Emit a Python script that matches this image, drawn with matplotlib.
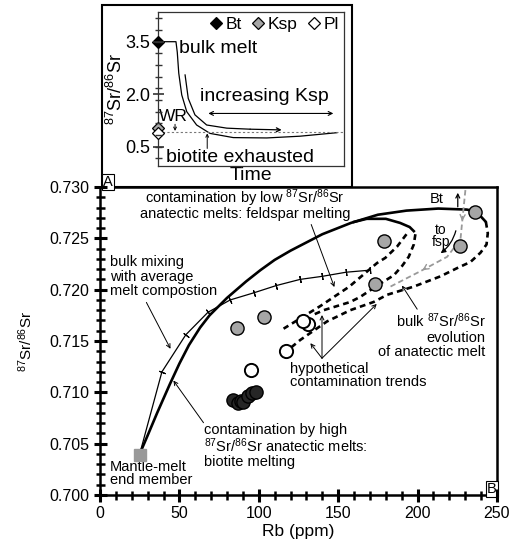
import numpy as np
import matplotlib.pyplot as plt
from matplotlib.patches import Rectangle
from matplotlib.lines import Line2D
from matplotlib.transforms import IdentityTransform
from matplotlib.ticker import MultipleLocator, FormatStrFormatter, FixedLocator

plt.rcParams['font.family'] = ['Liberation Sans', 'DejaVu Sans']
plt.rcParams['mathtext.fontset'] = 'custom'
plt.rcParams['mathtext.rm'] = 'Liberation Sans'
plt.rcParams['mathtext.default'] = 'regular'

# ================= Panel A data (schematic) =================
t_bulk = [0, 0.95, 1.02, 1.1, 1.26, 1.53, 2.06, 2.78, 4.03, 5.83, 7.62, 9.6]
sr_bulk = [3.5, 3.5, 3.2, 2.6, 1.98, 1.5, 1.12, 0.88, 0.76, 0.75, 0.8, 0.9]
t_ksp = [1.44, 1.61, 1.97, 2.6, 3.68, 4.93, 6.63]
sr_ksp = [2.55, 1.88, 1.41, 1.12, 1.03, 1.0, 0.98]
wr_level = 0.93
mineral_names = ['Bt', 'Ksp', 'Pl']
mineral_sr = [3.5, 1.03, 0.88]
mineral_fill = ['black', '#a6a6a6', 'white']

# ================= Panel B data =================
rb_mantle, sr_mantle = 25, 0.7039
rb_black = [84, 87, 89, 90, 93, 96, 98]
sr_black = [0.7093, 0.7090, 0.7092, 0.7091, 0.7096, 0.7099, 0.7100]
rb_open = [95, 117, 131, 128]
sr_open = [0.7122, 0.7140, 0.7167, 0.7169]
rb_grey = [86, 103, 173, 179, 227, 236]
sr_grey = [0.7163, 0.7173, 0.7206, 0.7247, 0.7243, 0.7276]

# biotite melting curve (thick solid)
rb_bt = [25, 30, 36, 44, 50, 56, 63, 69, 80, 92, 101, 110, 120, 140, 158, 175, 193, 213, 231, 237, 243]
sr_bt = [0.7040, 0.7058, 0.7080, 0.7108, 0.7128, 0.7146, 0.7163, 0.7175, 0.7192, 0.7208, 0.7219,
         0.7229, 0.7238, 0.7254, 0.7265, 0.7273, 0.7277, 0.7279, 0.7278, 0.7276, 0.7266]
# feldspar melting branch (thick solid)
rb_fsp = [160, 168, 180, 189, 195, 197.6]
sr_fsp = [0.7266, 0.7269, 0.7269, 0.7265, 0.7261, 0.7257]
# bulk mixing line with ticks
rb_mix = [25, 39, 54, 68, 82, 97, 111, 126, 140, 155, 170]
sr_mix = [0.7040, 0.7120, 0.7156, 0.7178, 0.7190, 0.7197, 0.7204, 0.7210, 0.7213, 0.7217, 0.7219]
# hypothetical contamination trends (dashed)
rb_loop = [243, 244.2, 243.4, 239.6, 233.3, 224.9, 214.4, 197.6, 180.8, 172.3, 157.6, 142.9, 126.1, 119.8]
sr_loop = [0.7266, 0.7255, 0.7244, 0.7236, 0.7227, 0.7221, 0.7213, 0.7203, 0.7195, 0.7188,
           0.7180, 0.7169, 0.7151, 0.7143]
rb_d1 = [193, 187.1, 179.7, 174.5, 157, 138.7, 115.6]
sr_d1 = [0.7254, 0.7242, 0.7231, 0.7226, 0.7203, 0.7184, 0.7162]
rb_d2 = [198.6, 197.6, 194.4, 190.2, 185, 176.6, 163.9, 157.6, 149.2, 140.8, 133.5]
sr_d2 = [0.7254, 0.7244, 0.7232, 0.7223, 0.7214, 0.7206, 0.7193, 0.7188, 0.7184, 0.7180, 0.7175]
# bulk melt evolution (grey dashed)
rb_evol = [230.1, 228, 227, 218.6, 201.8, 182.9]
sr_evol = [0.7297, 0.7265, 0.7249, 0.7232, 0.7218, 0.7203]


def cross_ticks(fig, ax, axis, positions, half_px, width, color='black'):
    # ticks crossing the spine: positions come from the axes scale, drawn in pixels on the figure
    bb = ax.get_window_extent()
    for p in positions:
        if axis == 'x':
            x = ax.transData.transform((p, ax.get_ylim()[0]))[0]
            xs, ys = [x, x], [bb.y0 - half_px, bb.y0 + half_px]
        else:
            y = ax.transData.transform((ax.get_xlim()[0], p))[1]
            xs, ys = [bb.x0 - half_px, bb.x0 + half_px], [y, y]
        fig.add_artist(Line2D(xs, ys, color=color, lw=width, solid_capstyle='butt',
                              transform=IdentityTransform(), zorder=10))


fig = plt.figure(figsize=(5.15, 5.57), dpi=100)

# ================= Panel B =================
axB = fig.add_axes([100/515, 62/557, 397/515, 308/557])
axB.set_xlim(0, 250)
axB.set_ylim(0.700, 0.730)

axB.plot(rb_bt, sr_bt, color='black', lw=1.9, solid_capstyle='round', zorder=3)
axB.plot(rb_fsp, sr_fsp, color='black', lw=1.9, zorder=3)
axB.plot(rb_mix, sr_mix, color='black', lw=0.9, zorder=3)
for xs, ys in [(rb_loop, sr_loop), (rb_d1, sr_d1), (rb_d2, sr_d2)]:
    axB.plot(xs, ys, color='black', lw=1.9, dashes=(2.2, 1.6), zorder=3)
axB.plot(rb_evol, sr_evol, color='#999999', lw=1.3, dashes=(3, 1.8), zorder=3, clip_on=False)
for (x0, y0), (x1, y1) in [((228.3, 0.7272), (228, 0.7264)), ((206, 0.7222), (201.5, 0.72175))]:
    axB.annotate('', xy=(x1, y1), xytext=(x0, y0),
                 arrowprops=dict(arrowstyle='->', color='#999999', lw=1.0, mutation_scale=9))

# tick marks on the mixing line, perpendicular to the line
pts = axB.transData.transform(np.column_stack([rb_mix, sr_mix]))
for i in range(1, len(rb_mix)):
    j0, j1 = max(i - 1, 0), min(i + 1, len(rb_mix) - 1)
    dx, dy = pts[j1] - pts[j0]
    ang = np.degrees(np.arctan2(dy, dx))
    axB.plot(rb_mix[i], sr_mix[i], marker=(2, 2, ang), ms=5, mew=0.8, color='black', zorder=3)

axB.plot(rb_mantle, sr_mantle, 's', ms=8, color='#999999', zorder=4)
axB.plot(rb_black, sr_black, 'o', ms=9.5, mfc='#262626', mec='black', mew=1.0, zorder=4)
axB.plot(rb_open, sr_open, 'o', ms=9.5, mfc='white', mec='black', mew=1.4, zorder=4)
axB.plot(rb_grey, sr_grey, 'o', ms=9.5, mfc='#a6a6a6', mec='black', mew=1.0, zorder=4)

fs = 10.5
arrow_kw = dict(arrowstyle='->', lw=0.7, mutation_scale=7)
axB.text(91.4, 0.7283, 'contamination by low $^{87}$Sr/$^{86}$Sr\nanatectic melts: feldspar melting',
         ha='center', va='center', fontsize=fs, linespacing=0.85)
axB.annotate('', xy=(148.2, 0.7200), xytext=(132.4, 0.7266), arrowprops=arrow_kw)
axB.text(6.3, 0.72128, 'bulk mixing\nwith average\nmelt compostion', ha='left', va='center',
         fontsize=fs, linespacing=1.05)
axB.annotate('', xy=(45.2, 0.7140), xytext=(28.4, 0.7190), arrowprops=arrow_kw)
axB.text(65.6, 0.70478, 'contamination by high\n$^{87}$Sr/$^{86}$Sr anatectic melts:\nbiotite melting',
         ha='left', va='center', fontsize=fs, linespacing=0.95)
axB.annotate('', xy=(45.2, 0.71137), xytext=(66.2, 0.70682), arrowprops=arrow_kw)
axB.text(6.3, 0.70211, 'Mantle-melt\nend member', ha='left', va='center', fontsize=fs, linespacing=0.85)
axB.text(242.7, 0.71556, 'bulk $^{87}$Sr/$^{86}$Sr\nevolution\nof anatectic melt', ha='right',
         va='center', multialignment='right', fontsize=fs, linespacing=1.05)
axB.annotate('', xy=(189.2, 0.72063), xytext=(200.7, 0.71787), arrowprops=arrow_kw)
axB.text(119.8, 0.71165, 'hypothetical\ncontamination trends', ha='left', va='center',
         fontsize=fs, linespacing=0.95)
for tx, ty in [(131.4, 0.7150), (139.8, 0.7178), (175.5, 0.7188)]:
    axB.annotate('', xy=(tx, ty), xytext=(139.8, 0.71332),
                 arrowprops=dict(arrow_kw, shrinkA=0))
axB.text(211.9, 0.72885, 'Bt', ha='center', va='center', fontsize=fs)
axB.annotate('', xy=(225.3, 0.72944), xytext=(225.3, 0.72807),
             arrowprops=dict(arrowstyle='->', lw=0.9, mutation_scale=7, shrinkA=0, shrinkB=0))
axB.text(214.5, 0.7252, 'to\nfsp', ha='center', va='center', fontsize=10, linespacing=0.8)
axB.annotate('', xy=(213.1, 0.72339), xytext=(224.5, 0.7260),
             arrowprops=dict(arrowstyle='-|>', lw=0.9, mutation_scale=7,
                             connectionstyle='arc3,rad=-0.2', color='black'))
axB.text(0.987, 0.02, 'B', transform=axB.transAxes, ha='center', va='center', fontsize=10.5,
         bbox=dict(boxstyle='square,pad=0.08', fc='white', ec='black', lw=0.8))

for s in axB.spines.values():
    s.set_linewidth(1.8)
axB.xaxis.set_major_locator(MultipleLocator(50))
axB.yaxis.set_major_locator(MultipleLocator(0.005))
axB.yaxis.set_major_formatter(FormatStrFormatter('%.3f'))
axB.tick_params(which='both', length=0, labelsize=11.5, pad=8)
cross_ticks(fig, axB, 'x', np.arange(0, 251, 50), 6.5, 2.2)
cross_ticks(fig, axB, 'x', [v for v in np.arange(0, 251, 10) if v % 50], 4.5, 1.8)
cross_ticks(fig, axB, 'y', np.linspace(0.700, 0.730, 7), 6.5, 2.2)
cross_ticks(fig, axB, 'y', [v for k, v in enumerate(np.linspace(0.700, 0.730, 31)) if k % 5], 4.5, 1.8)
axB.set_xlabel('Rb (ppm)', fontsize=12.5, labelpad=2)
axB.set_ylabel('$^{87}$Sr/$^{86}$Sr', fontsize=11, labelpad=10)

# ================= Panel A =================
fig.patches.append(Rectangle((101.7/515, 370/557), 250/515, 182/557, transform=fig.transFigure,
                             fill=False, lw=1.5, ec='black', zorder=0))
axA = fig.add_axes([158.3/515, (557-165.7)/557, 186/515, 154/557])
axA.set_xlim(0, 10)
axA.set_ylim(-0.043, 4.357)
axA.plot(t_bulk, sr_bulk, color='black', lw=0.9)
axA.plot(t_ksp[:-1], sr_ksp[:-1], color='black', lw=0.9)
axA.annotate('', xy=(t_ksp[-1], sr_ksp[-1]), xytext=(t_ksp[-2], sr_ksp[-2]),
             arrowprops=dict(arrowstyle='->', lw=0.9, mutation_scale=7, shrinkA=0, shrinkB=0))
axA.axhline(wr_level, color='#777777', lw=0.8, dashes=(2, 2))
axA.annotate('', xy=(2.69, 1.45), xytext=(9.41, 1.45),
             arrowprops=dict(arrowstyle='<->', lw=0.8, mutation_scale=7, shrinkA=0, shrinkB=0))
axA.annotate('', xy=(0.9, wr_level + 0.02), xytext=(0.9, 1.14),
             arrowprops=dict(arrowstyle='->', lw=0.7, mutation_scale=5, shrinkA=0, shrinkB=0))
axA.annotate('', xy=(2.63, 0.88), xytext=(2.63, 0.45),
             arrowprops=dict(arrowstyle='->', lw=0.7, mutation_scale=5, shrinkA=0, shrinkB=0))
for name, val, fc in zip(mineral_names, mineral_sr, mineral_fill):
    axA.plot(0, val, 'D', ms=6, mfc=fc, mec='black', mew=0.9, clip_on=False, zorder=7)

fsA = 14
axA.text(1.1, 3.3, 'bulk melt', ha='left', va='center', fontsize=fsA)
axA.text(2.25, 1.93, 'increasing Ksp', ha='left', va='center', fontsize=fsA)
axA.text(0.8, 1.36, 'WR', ha='center', va='center', fontsize=12.5)
axA.text(0.4, 0.2, 'biotite exhausted', ha='left', va='center', fontsize=fsA)

handles = [Line2D([], [], marker='D', ls='none', ms=6, mfc=fc, mec='black', mew=0.9)
           for fc in mineral_fill]
axA.legend(handles, mineral_names, loc='upper right', ncol=3, frameon=False, fontsize=12.5,
           handletextpad=0.1, columnspacing=0.5, handlelength=0.9, borderaxespad=0.1,
           borderpad=0.2)

for s in axA.spines.values():
    s.set_linewidth(0.9)
    s.set_color('#333333')
axA.yaxis.set_major_locator(FixedLocator([0.5, 2.0, 3.5]))
axA.yaxis.set_major_formatter(FormatStrFormatter('%.1f'))
axA.tick_params(axis='y', which='both', length=0, labelsize=13, pad=6)
axA.tick_params(axis='x', which='both', bottom=False, labelbottom=False)
cross_ticks(fig, axA, 'y', [0.5, 2.0, 3.5], 5.5, 1.2, '#333333')
cross_ticks(fig, axA, 'y', [v for v in np.arange(-1, 12) / 3 + 0.5 if -0.04 < v < 4.36], 3.5, 1.0, '#333333')
axA.set_xlabel('Time', fontsize=14, labelpad=1)
axA.set_ylabel('$^{87}$Sr/$^{86}$Sr', fontsize=13, labelpad=-1)

fig.text(108/515, (557-182)/557, 'A', ha='center', va='center', fontsize=10.5,
         bbox=dict(boxstyle='square,pad=0.08', fc='white', ec='black', lw=0.8))

fig.savefig('out.png', dpi=100)
